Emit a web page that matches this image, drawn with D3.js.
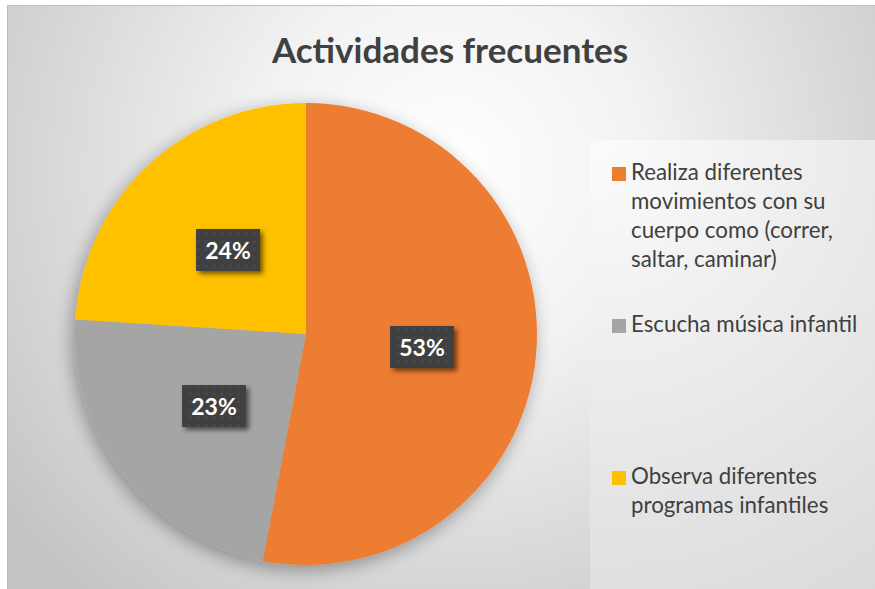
<!DOCTYPE html>
<html><head><meta charset="utf-8">
<script src="https://cdn.jsdelivr.net/npm/d3@7"></script>
<style>html,body{margin:0;padding:0;background:#fff;}svg{display:block;}</style>
</head><body>
<script>
const title = "Actividades frecuentes";
const categories = [
  "Realiza diferentes movimientos con su cuerpo como (correr, saltar, caminar)",
  "Escucha música infantil",
  "Observa diferentes programas infantiles"
];
const legendLines = [
  ["Realiza diferentes", "movimientos con su", "cuerpo como (correr,", "saltar, caminar)"],
  ["Escucha música infantil"],
  ["Observa diferentes", "programas infantiles"]
];
const values = [53, 23, 24];
const labels = ["53%", "23%", "24%"];
const colors = ["#ED7D31", "#A5A5A5", "#FFC000"];

const W = 875, H = 589;
const svg = d3.select("body").append("svg").attr("width", W).attr("height", H);
const defs = svg.append("defs");

const bg = defs.append("radialGradient").attr("id","bg")
  .attr("gradientUnits","userSpaceOnUse").attr("cx",450).attr("cy",170).attr("r",560);
bg.append("stop").attr("offset","0").attr("stop-color","#ffffff");
bg.append("stop").attr("offset","0.35").attr("stop-color","#f2f2f2");
bg.append("stop").attr("offset","1").attr("stop-color","#c4c4c4");

const lg = defs.append("radialGradient").attr("id","lg")
  .attr("gradientUnits","userSpaceOnUse").attr("cx",600).attr("cy",150).attr("r",520);
lg.append("stop").attr("offset","0").attr("stop-color","#fbfbfb");
lg.append("stop").attr("offset","1").attr("stop-color","#dadada");

const sh = defs.append("filter").attr("id","pieShadow").attr("x","-20%").attr("y","-20%").attr("width","140%").attr("height","140%");
sh.append("feGaussianBlur").attr("in","SourceAlpha").attr("stdDeviation",9).attr("result","b");
sh.append("feOffset").attr("in","b").attr("dx",-3).attr("dy",5).attr("result","o");
sh.append("feComponentTransfer").attr("in","o").attr("result","o2")
  .append("feFuncA").attr("type","linear").attr("slope",0.35);
const m1 = sh.append("feMerge");
m1.append("feMergeNode").attr("in","o2");
m1.append("feMergeNode").attr("in","SourceGraphic");

const ls = defs.append("filter").attr("id","lblShadow").attr("x","-30%").attr("y","-30%").attr("width","160%").attr("height","160%");
ls.append("feGaussianBlur").attr("in","SourceAlpha").attr("stdDeviation",2.5).attr("result","b");
ls.append("feOffset").attr("in","b").attr("dx",3).attr("dy",3).attr("result","o");
ls.append("feComponentTransfer").attr("in","o").attr("result","o2")
  .append("feFuncA").attr("type","linear").attr("slope",0.55);
const m2 = ls.append("feMerge");
m2.append("feMergeNode").attr("in","o2");
m2.append("feMergeNode").attr("in","SourceGraphic");

const pat = defs.append("pattern").attr("id","dots").attr("width",8).attr("height",8).attr("patternUnits","userSpaceOnUse");
pat.append("rect").attr("width",8).attr("height",8).attr("fill","#404040");
pat.append("circle").attr("cx",4).attr("cy",4).attr("r",1.3).attr("fill","#4c4c4c");

// chart frame
svg.append("rect").attr("x",7).attr("y",5).attr("width",W-7).attr("height",H-5).attr("fill","url(#bg)");
svg.append("line").attr("x1",7).attr("x2",W).attr("y1",5.5).attr("y2",5.5).attr("stroke","#bdbdbd");
svg.append("line").attr("x1",7.5).attr("x2",7.5).attr("y1",5).attr("y2",H).attr("stroke","#bdbdbd");

// legend area
svg.append("rect").attr("x",590).attr("y",140).attr("width",W-590).attr("height",H-140).attr("fill","url(#lg)");

// title
svg.append("text").attr("x",450).attr("y",63).attr("text-anchor","middle")
  .attr("font-family","Lato, 'Open Sans', sans-serif").attr("font-weight","bold")
  .attr("font-size",35).attr("fill","#404040").text(title);

// pie
const cx = 306, cy = 334, r = 231;
const pie = d3.pie().sort(null).value(d => d)(values);
const arc = d3.arc().innerRadius(0).outerRadius(r);
const g = svg.append("g").attr("transform",`translate(${cx},${cy})`);
g.append("g").attr("filter","url(#pieShadow)")
  .selectAll("path").data(pie).join("path")
  .attr("d",arc).attr("fill",(d,i)=>colors[i]);

// labels
const lblOffsets = [[116, 13], [-92, 72], [-78, -84]];
const lg2 = g.append("g");
pie.forEach((d,i) => {
  const [x,y] = lblOffsets[i];
  const bw = 64, bh = 42;
  lg2.append("rect").attr("x",x-bw/2).attr("y",y-bh/2).attr("width",bw).attr("height",bh)
    .attr("fill","url(#dots)").attr("filter","url(#lblShadow)");
  lg2.append("text").attr("x",x).attr("y",y+8.5).attr("text-anchor","middle")
    .attr("font-family","Lato, 'Open Sans', sans-serif").attr("font-weight","bold")
    .attr("font-size",23).attr("fill","#ffffff").text(labels[i]);
});

// legend
const legendY = [180, 332, 484];
const lgG = svg.append("g");
categories.forEach((c,i) => {
  lgG.append("rect").attr("x",612).attr("y",legendY[i]-13).attr("width",14).attr("height",14).attr("fill",colors[i]);
  const t = lgG.append("text").attr("font-family","Lato, 'Open Sans', sans-serif")
    .attr("font-size",22.3).attr("fill","#404040");
  legendLines[i].forEach((ln,j) => {
    t.append("tspan").attr("x",631).attr("y",legendY[i]+j*29).text(ln);
  });
});
</script>
</body></html>
